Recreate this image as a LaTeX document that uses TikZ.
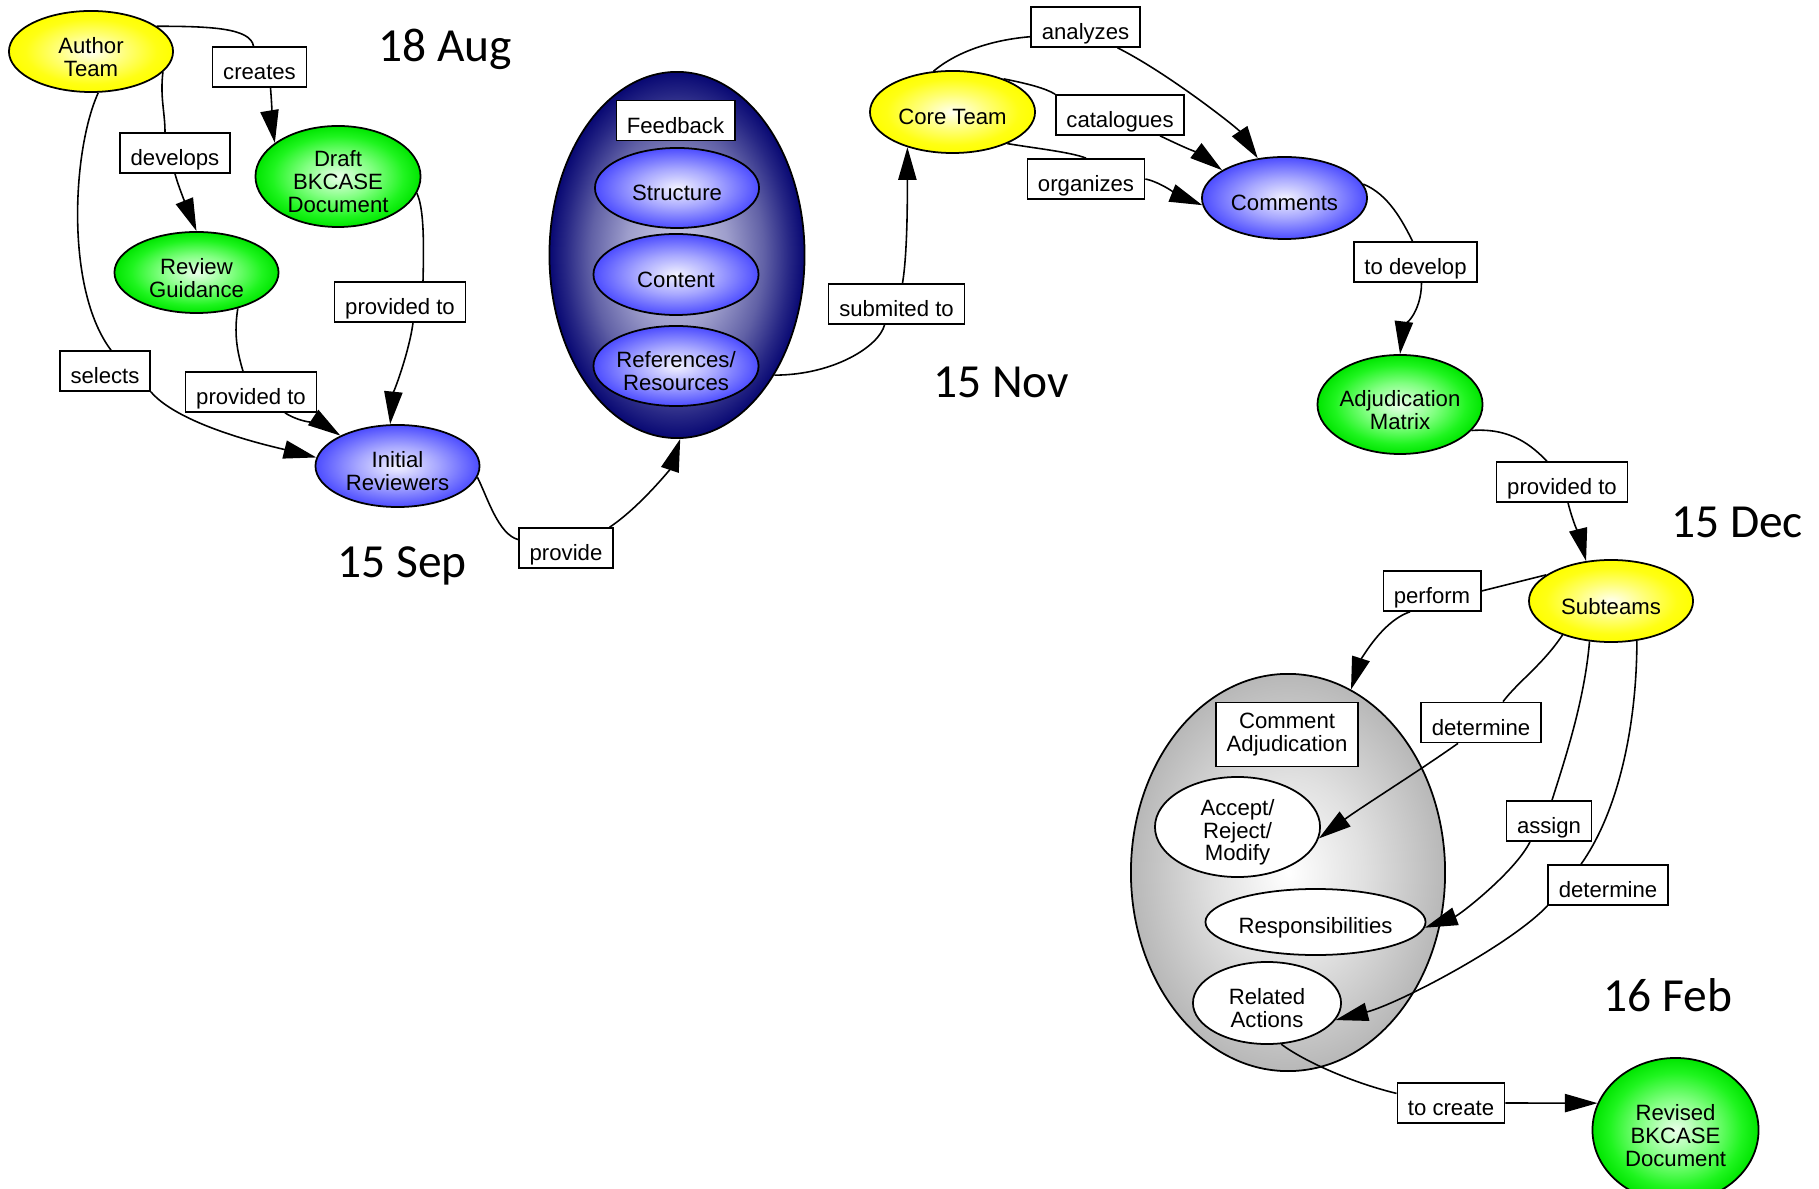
\documentclass[tikz,border=0pt]{standalone}
\usepackage{fontspec}
\newfontfamily\gvsans{Liberation Sans}
\newfontfamily\gvcal{Carlito}
\usetikzlibrary{shapes.geometric,arrows.meta,calc}
\pgfdeclareradialshading{gvyellow}{\pgfpoint{0bp}{0bp}}{rgb(0bp)=(1,1,0.95); rgb(11bp)=(1,1,0.45); rgb(20bp)=(1,1,0.08); rgb(25bp)=(1,1,0); rgb(50bp)=(1,1,0)}
\pgfdeclareradialshading{gvgreen}{\pgfpoint{0bp}{0bp}}{rgb(0bp)=(0.92,1,0.92); rgb(11bp)=(0.5,1,0.5); rgb(20bp)=(0.12,0.96,0.12); rgb(25bp)=(0,0.9,0); rgb(50bp)=(0,0.9,0)}
\pgfdeclareradialshading{gvblue}{\pgfpoint{0bp}{0bp}}{rgb(0bp)=(0.95,0.95,1); rgb(12bp)=(0.66,0.66,1); rgb(25bp)=(0.3,0.3,1); rgb(50bp)=(0.3,0.3,1)}
\pgfdeclareradialshading{gvnavy}{\pgfpoint{0bp}{0bp}}{rgb(0bp)=(0.8,0.8,0.9); rgb(10bp)=(0.62,0.62,0.8); rgb(17bp)=(0.38,0.38,0.65); rgb(22bp)=(0.15,0.15,0.52); rgb(25bp)=(0.03,0.03,0.45); rgb(50bp)=(0.03,0.03,0.45)}
\pgfdeclareradialshading{gvgray}{\pgfpoint{0bp}{0bp}}{rgb(0bp)=(1,1,1); rgb(12bp)=(0.88,0.88,0.88); rgb(25bp)=(0.72,0.72,0.72); rgb(50bp)=(0.72,0.72,0.72)}
\newcommand\gvfont{\gvsans\fontsize{6.3}{6.5}\selectfont}
\newcommand\gvdate{\gvcal\fontsize{13.5}{14}\selectfont}
\begin{document}
\begin{tikzpicture}[x=0.01cm,y=-0.01cm,
  gvtext/.style={font=\gvfont, align=center, inner sep=0pt, yshift=-1.5pt},
  txt/.style={label={[gvtext]center:#1}},
  ell/.style={ellipse, draw=black, line width=0.5pt, inner sep=0pt},
  ylw/.style={ell, shading=gvyellow},
  grn/.style={ell, shading=gvgreen},
  blu/.style={ell, shading=gvblue},
  nvy/.style={ell, shading=gvnavy},
  gry/.style={ell, shading=gvgray},
  wht/.style={ell, fill=white},
  lbl/.style={draw, fill=white, line width=0.45pt, inner xsep=3pt, inner ysep=0pt, text height=9.3pt, text depth=2.1pt, font=\gvfont},
  lbltwo/.style={draw, fill=white, line width=0.45pt, inner xsep=3pt, inner ysep=3pt, align=center, font=\gvfont},
  datelbl/.style={font=\gvdate, anchor=base, inner sep=0pt},
  lk/.style={line width=0.45pt},
  ar/.style={lk, -{Triangle[length=9.3pt,width=5.2pt]}}]
\useasboundingbox (0,0) rectangle (1819,1189);

% ellipses
\node[ylw, minimum width=1.64cm, minimum height=0.81cm, txt={Author\\Team}] (at) at (91,51.5) {};
\node[grn, minimum width=1.65cm, minimum height=1.01cm, txt={Draft\\BKCASE\\Document}] (dr) at (338,176.5) {};
\node[grn, minimum width=1.64cm, minimum height=0.81cm, txt={Review\\Guidance}] (rg) at (196.5,272.5) {};
\node[blu, minimum width=1.64cm, minimum height=0.82cm, txt={Initial\\Reviewers}] (ir) at (397.5,466) {};
\node[nvy, minimum width=2.55cm, minimum height=3.66cm] (fb) at (677,255) {};
\node[lbl] (fbl) at (675.5,120.5) {Feedback};
\node[blu, minimum width=1.64cm, minimum height=0.80cm, txt={Structure}] (s1) at (677,188) {};
\node[blu, minimum width=1.65cm, minimum height=0.81cm, txt={Content}] (s2) at (676,274.5) {};
\node[blu, minimum width=1.65cm, minimum height=0.80cm, txt={References/\\Resources}] (s3) at (676,366) {};
\node[ylw, minimum width=1.65cm, minimum height=0.82cm, txt={Core Team}] (ct) at (952.5,112) {};
\node[blu, minimum width=1.65cm, minimum height=0.82cm, txt={Comments}] (cm) at (1284.5,198) {};
\node[grn, minimum width=1.65cm, minimum height=0.99cm, txt={Adjudication\\Matrix}] (am) at (1400,404.5) {};
\node[ylw, minimum width=1.64cm, minimum height=0.82cm, txt={Subteams}] (st) at (1611,601) {};
\node[gry, minimum width=3.14cm, minimum height=3.97cm] (ca) at (1288,872.5) {};
\node[lbltwo] (cab) at (1287,734.5) {Comment\\Adjudication};
\node[wht, minimum width=1.65cm, minimum height=1.00cm, txt={Accept/\\Reject/\\Modify}] (arm) at (1237.5,827) {};
\node[wht, minimum width=2.20cm, minimum height=0.66cm, txt={Responsibilities}] (rs) at (1315.5,922) {};
\node[wht, minimum width=1.48cm, minimum height=0.82cm, txt={Related\\Actions}] (ra) at (1267,1003) {};
\node[grn, minimum width=1.66cm, minimum height=1.44cm, txt={Revised\\BKCASE\\Document}] (rv) at (1675.5,1130) {};

% edge labels
\node[lbl] (creates) at (259.5,67) {creates};
\node[lbl] (develops) at (175,153) {develops};
\node[lbl] (pr) at (400,302) {provided to};
\node[lbl] (selects) at (105,371) {selects};
\node[lbl] (pl) at (251,392) {provided to};
\node[lbl] (pv) at (566,548) {provide};
\node[lbl] (sub) at (896.5,304) {submited to};
\node[lbl] (az) at (1085.5,27) {analyzes};
\node[lbl] (cat) at (1120,115) {catalogues};
\node[lbl] (org) at (1086,179) {organizes};
\node[lbl] (td) at (1415.5,262) {to develop};
\node[lbl] (pt) at (1562,482) {provided to};
\node[lbl] (pf) at (1432,591) {perform};
\node[lbl] (d1) at (1481,722.5) {determine};
\node[lbl] (as) at (1549,821) {assign};
\node[lbl] (d2) at (1608,885) {determine};
\node[lbl] (tc) at (1451,1103) {to create};

% dates
\node[datelbl] (dAug) at (445,62) {18 Aug};
\node[datelbl] (dSep) at (402,578) {15 Sep};
\node[datelbl] (dNov) at (1001,398) {15 Nov};
\node[datelbl] (dDec) at (1737,538) {15 Dec};
\node[datelbl] (dFeb) at (1668,1011) {16 Feb};

% connectors
\draw[lk] (at.21) .. controls +(55,0) and +(-3,-18) .. ($(creates.north)+(-6,0)$);
\draw[ar] ($(creates.south)+(11,0)$) .. controls +(2,25) and +(-2,-12) .. (dr.152);
\draw[lk] (at.-16) .. controls +(-3,25) and +(0,-20) .. ($(develops.north)+(-10,0)$);
\draw[ar] (develops.south) .. controls +(4,15) and +(-6,-15) .. (rg.north);
\draw[lk] (at.-80) .. controls +(-26,57) and +(-46,-61) .. ($(selects.north)+(6,0)$);
\draw[ar] (selects.south east) .. controls +(30,35) and +(-40,-10) .. (ir.174);
\draw[lk] (rg.-41) .. controls +(-4,25) and +(-6,-20) .. ($(pl.north)+(-8,0)$);
\draw[ar] ($(pl.south)+(34,0)$) .. controls +(15,10) and +(-15,-10) .. (ir.152);
\draw[lk] (dr.-12) .. controls +(7,15) and +(1,-40) .. ($(pr.north)+(23,0)$);
\draw[ar] ($(pr.south)+(13,0)$) .. controls +(-4,30) and +(3,-30) .. (ir.100);
\draw[lk] (ir.-8) .. controls +(10,20) and +(-20,-5) .. (pv.170);
\draw[ar] ($(pv.north east)+(-4,0)$) .. controls +(30,-20) and +(-10,30) .. (fb.-89);
\draw[lk] (fb.-51) .. controls +(60,0) and +(-5,21) .. ($(sub.south)+(-12,0)$);
\draw[ar] ($(sub.north)+(6,0)$) .. controls +(5,-30) and +(0,50) .. (ct.-142);
\draw[lk] (ct.115) .. controls +(30,-25) and +(-25,2) .. (az.190);
\draw[ar] ($(az.south)+(32,0)$) .. controls +(50,25) and +(-20,-30) .. (cm.124);
\draw[lk] (ct.33) .. controls +(25,5) and +(-10,-6) .. (cat.north west);
\draw[ar] ($(cat.south)+(40,0)$) .. controls +(25,12) and +(-20,-15) .. (cm.156);
\draw[lk] (ct.-30) .. controls +(30,5) and +(-15,-6) .. (org.north);
\draw[ar] (org.east) .. controls +(15,3) and +(-20,-8) .. (cm.185);
\draw[lk] (cm.10) .. controls +(25,10) and +(-10,-20) .. ($(td.north)+(-3,0)$);
\draw[ar] ($(td.south)+(6,0)$) .. controls +(0,30) and +(3,-25) .. (am.north);
\draw[lk] (am.-20) .. controls +(40,-3) and +(-15,-15) .. ($(pt.north)+(-15,0)$);
\draw[ar] ($(pt.south)+(6,0)$) .. controls +(5,20) and +(-5,-20) .. (st.122);
\draw[lk] (st.158) -- (pf.east);
\draw[ar] ($(pf.south)+(-22,0)$) .. controls +(-30,10) and +(8,-25) .. (ca.71);
\draw[lk] (st.-145) .. controls +(-20,30) and +(15,-20) .. ($(d1.north)+(22,0)$);
\draw[ar] ($(d1.south)+(-23,0)$) .. controls +(-38,27) and +(42,-31) .. (arm.-8);
\draw[lk] (st.-118) .. controls +(-5,59) and +(13,-41) .. ($(as.north)+(3,0)$);
\draw[ar] ($(as.south)+(-19,0)$) .. controls +(-15,30) and +(35,-13) .. (rs.-3);
\draw[lk] (st.-57) .. controls +(0,80) and +(39,-55) .. ($(d2.north)+(-27,0)$);
\draw[ar] (d2.south west) .. controls +(-38,40) and +(62,-16) .. (ra.-14);
\draw[lk] (ra.-71) .. controls +(24,18) and +(-42,-10) .. (tc.170);
\draw[ar] (tc.east) -- (rv.161);
\end{tikzpicture}
\end{document}
